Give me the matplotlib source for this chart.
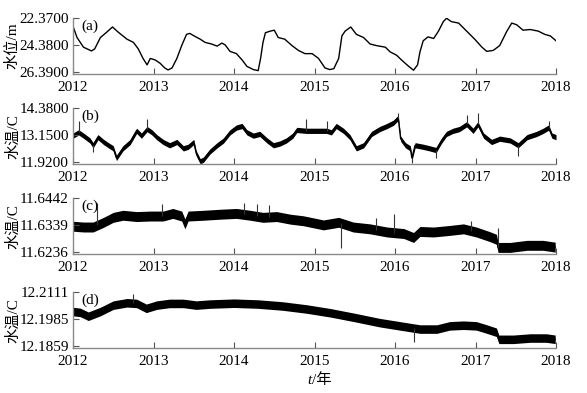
import matplotlib.pyplot as plt
import numpy as np

plt.rcParams['font.family'] = ['Liberation Serif', 'Noto Sans CJK SC']
plt.rcParams['font.size'] = 11

# (a) water level, m (axis inverted)
t_a = [2012.0, 2012.05, 2012.13, 2012.23, 2012.27, 2012.34, 2012.42, 2012.49, 2012.56, 2012.67,
       2012.75, 2012.81, 2012.87, 2012.92, 2012.96, 2013.02, 2013.08, 2013.14, 2013.18, 2013.23,
       2013.29, 2013.35, 2013.41, 2013.45, 2013.52, 2013.58, 2013.64, 2013.72, 2013.79, 2013.85,
       2013.89, 2013.95, 2014.03, 2014.10, 2014.16, 2014.24, 2014.30, 2014.33, 2014.36, 2014.39,
       2014.45, 2014.50, 2014.55, 2014.63, 2014.72, 2014.80, 2014.88, 2014.97, 2015.05, 2015.13,
       2015.19, 2015.24, 2015.30, 2015.34, 2015.38, 2015.45, 2015.52, 2015.61, 2015.69, 2015.77,
       2015.88, 2015.94, 2016.02, 2016.08, 2016.17, 2016.23, 2016.28, 2016.31, 2016.35, 2016.41,
       2016.48, 2016.54, 2016.60, 2016.64, 2016.70, 2016.79, 2016.89, 2016.99, 2017.08, 2017.14,
       2017.22, 2017.30, 2017.39, 2017.45, 2017.51, 2017.59, 2017.68, 2017.78, 2017.86, 2017.93,
       2018.0]
level = [22.99, 23.83, 24.55, 24.83, 24.67, 23.83, 23.42, 23.04, 23.42, 23.95,
         24.19, 24.67, 25.39, 25.87, 25.39, 25.50, 25.74, 26.10, 26.25, 26.10,
         25.39, 24.43, 23.59, 23.52, 23.76, 23.95, 24.19, 24.31, 24.47, 24.24,
         24.38, 24.86, 25.03, 25.50, 25.98, 26.22, 26.30, 25.39, 24.19, 23.47,
         23.35, 23.28, 23.83, 23.95, 24.43, 24.79, 25.03, 25.03, 25.39, 26.10,
         26.22, 26.15, 25.39, 23.71, 23.35, 23.04, 23.59, 23.83, 24.31, 24.43,
         24.55, 24.90, 25.15, 25.50, 25.98, 26.27, 25.87, 24.90, 24.07, 23.78,
         23.90, 23.35, 22.64, 22.39, 22.64, 22.75, 23.35, 23.95, 24.55, 24.86,
         24.79, 24.43, 23.35, 22.75, 22.87, 23.28, 23.23, 23.35, 23.59, 23.71,
         24.07]

# (b) water temperature, C
t_b = [2012.0, 2012.07, 2012.13, 2012.21, 2012.25, 2012.31, 2012.38, 2012.44, 2012.50, 2012.54,
       2012.62, 2012.71, 2012.79, 2012.85, 2012.92, 2012.98, 2013.04, 2013.12, 2013.20, 2013.29,
       2013.37, 2013.43, 2013.50, 2013.53, 2013.58, 2013.62, 2013.70, 2013.79, 2013.87, 2013.95,
       2014.03, 2014.10, 2014.16, 2014.24, 2014.32, 2014.41, 2014.49, 2014.57, 2014.65, 2014.73,
       2014.78, 2014.90, 2014.99, 2015.07, 2015.15, 2015.21, 2015.27, 2015.36, 2015.44, 2015.52,
       2015.61, 2015.71, 2015.81, 2015.90, 2015.98, 2016.04, 2016.07, 2016.13, 2016.19, 2016.21,
       2016.25, 2016.35, 2016.43, 2016.51, 2016.58, 2016.64, 2016.72, 2016.80, 2016.89, 2016.97,
       2017.03, 2017.10, 2017.20, 2017.30, 2017.43, 2017.53, 2017.64, 2017.76, 2017.84, 2017.91,
       2017.95, 2018.0]
temp_b = [13.13, 13.28, 13.13, 12.91, 12.69, 13.06, 12.84, 12.69, 12.55, 12.11,
          12.55, 12.84, 13.35, 13.13, 13.43, 13.28, 13.06, 12.84, 12.69, 12.84,
          12.55, 12.62, 12.84, 12.33, 11.96, 12.03, 12.40, 12.69, 12.91, 13.28,
          13.50, 13.57, 13.28, 13.13, 13.21, 12.91, 12.69, 12.77, 12.91, 13.13,
          13.39, 13.35, 13.35, 13.35, 13.35, 13.28, 13.57, 13.35, 13.06, 12.55,
          12.69, 13.21, 13.43, 13.57, 13.72, 13.94, 12.99, 12.69, 12.55, 12.11,
          12.69, 12.62, 12.55, 12.47, 12.91, 13.21, 13.35, 13.43, 13.65, 13.35,
          13.65, 13.13, 12.84, 12.99, 12.91, 12.69, 13.06, 13.21, 13.35, 13.50,
          13.13, 13.06]
spread_b = 0.12
spike_t_b = [2012.07, 2012.25, 2012.92, 2014.90, 2015.15, 2016.04, 2016.21, 2016.51, 2016.89, 2017.03, 2017.53, 2017.91]
spike_v_b = [13.79, 12.40, 13.87, 13.87, 13.79, 14.16, 11.89, 12.11, 14.09, 14.16, 12.18, 13.79]

# (c) water temperature, C
t_c = [2012.0, 2012.13, 2012.25, 2012.38, 2012.50, 2012.62, 2012.79, 2012.96, 2013.12, 2013.24,
       2013.35, 2013.39, 2013.43, 2013.62, 2013.83, 2014.03, 2014.20, 2014.36, 2014.53, 2014.70,
       2014.86, 2015.05, 2015.11, 2015.30, 2015.48, 2015.69, 2015.90, 2016.11, 2016.23, 2016.31,
       2016.48, 2016.68, 2016.85, 2017.01, 2017.18, 2017.26, 2017.28, 2017.43, 2017.64, 2017.84,
       2017.99]
temp_c = [11.6335, 11.6332, 11.6332, 11.6350, 11.6369, 11.6377, 11.6372, 11.6374, 11.6374, 11.6384,
          11.6374, 11.6344, 11.6374, 11.6377, 11.6381, 11.6384, 11.6377, 11.6369, 11.6372, 11.6362,
          11.6356, 11.6344, 11.6340, 11.6350, 11.6332, 11.6325, 11.6313, 11.6307, 11.6292, 11.6315,
          11.6313, 11.6319, 11.6325, 11.6313, 11.6295, 11.6285, 11.6254, 11.6254, 11.6262, 11.6262,
          11.6255]
spread_c = 0.0019
spike_t_c = [2012.30, 2013.10, 2014.12, 2014.28, 2014.44, 2015.33, 2015.77, 2015.99, 2016.94, 2017.28]
spike_v_c = [11.6424, 11.6421, 11.6423, 11.6421, 11.6417, 11.6252, 11.6365, 11.6380, 11.6356, 11.6327]

# (d) water temperature, C
t_d = [2012.0, 2012.09, 2012.19, 2012.34, 2012.50, 2012.67, 2012.79, 2012.91, 2013.04, 2013.20,
       2013.37, 2013.53, 2013.70, 2014.0, 2014.30, 2014.60, 2014.90, 2015.20, 2015.50, 2015.81,
       2016.06, 2016.31, 2016.52, 2016.68, 2016.85, 2017.01, 2017.14, 2017.26, 2017.29, 2017.47,
       2017.68, 2017.88, 2017.99]
temp_d = [12.2021, 12.2017, 12.1999, 12.2021, 12.2051, 12.2062, 12.2059, 12.2036, 12.2051, 12.2059,
          12.2059, 12.2051, 12.2056, 12.2060, 12.2056, 12.2047, 12.2033, 12.2015, 12.1993, 12.1969,
          12.1954, 12.1939, 12.1939, 12.1954, 12.1957, 12.1954, 12.1939, 12.1924, 12.1891, 12.1891,
          12.1897, 12.1897, 12.1891]
spread_d = 0.0020
spike_t_d = [2012.74, 2016.23]
spike_v_d = [12.2101, 12.1880]

years = [2012, 2013, 2014, 2015, 2016, 2017, 2018]
ticks_a = [22.37, 24.38, 26.39]
ticks_b = [11.92, 13.15, 14.38]
ticks_c = [11.6236, 11.6339, 11.6442]
ticks_d = [12.1859, 12.1985, 12.2111]

fig = plt.figure(figsize=(5.87, 3.93), dpi=100)
left, width, height = 0.1244, 0.8228, 0.1425
bottoms = [0.8117, 0.582, 0.353, 0.1137]
axes = [fig.add_axes([left, b, width, height]) for b in bottoms]


def style(ax, yticks, label, tag, flip=False):
    # axis runs a couple of pixels past the lowest tick, as in the original
    lo, hi = yticks[0], yticks[-1]
    pad = (hi - lo) * 0.04
    if flip:
        ax.set_ylim(hi + pad, lo)
    else:
        ax.set_ylim(lo - pad, hi)
    ax.set_xlim(2012, 2018)
    ax.set_xticks(years)
    ax.set_yticks(yticks)
    ax.set_yticklabels(['%.4f' % v for v in yticks])
    for s in ['top', 'right']:
        ax.spines[s].set_visible(False)
    for s in ['left', 'bottom']:
        ax.spines[s].set_color('#8a8a8a')
        ax.spines[s].set_linewidth(1.0)
    ax.tick_params(direction='in', length=4, color='#555555', labelsize=11, pad=3)
    ax.tick_params(axis='x', pad=5)
    ax.set_ylabel(label, fontsize=11)
    ax.yaxis.set_label_coords(-0.11, 0.5)
    ax.text(0.017, 0.86, tag, transform=ax.transAxes, fontsize=11, va='center')


def band(ax, t, v, spread, st, sv):
    v = np.array(v)
    ax.fill_between(t, v - spread, v + spread, color='black', lw=0)
    ax.plot(t, v, color='black', lw=1.0)
    base = np.interp(st, t, v)
    ax.vlines(st, base, sv, color='#333333', lw=0.8)


ax = axes[0]
ax.plot(t_a, level, color='black', lw=1.0)
style(ax, ticks_a, '水位/m', '(a)', flip=True)

ax = axes[1]
band(ax, t_b, temp_b, spread_b, spike_t_b, spike_v_b)
style(ax, ticks_b, '水温/C', '(b)')

ax = axes[2]
band(ax, t_c, temp_c, spread_c, spike_t_c, spike_v_c)
style(ax, ticks_c, '水温/C', '(c)')

ax = axes[3]
band(ax, t_d, temp_d, spread_d, spike_t_d, spike_v_d)
style(ax, ticks_d, '水温/C', '(d)')

fig.text(0.531, 0.033, 't', fontsize=11, style='italic', ha='right', va='center')
fig.text(0.531, 0.033, '/年', fontsize=11, ha='left', va='center')

fig.savefig('out.png', dpi=100)
